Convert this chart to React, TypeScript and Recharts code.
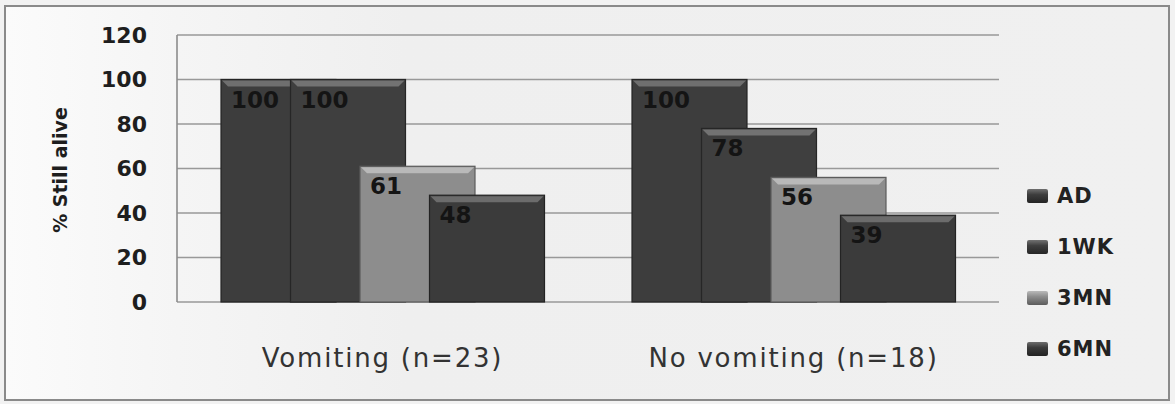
import React from "react";
import { BarChart, Bar, XAxis, YAxis, CartesianGrid, LabelList } from "recharts";

const categories = ["Vomiting (n=23)", "No vomiting (n=18)"];
const seriesNames = ["AD", "1WK", "3MN", "6MN"];
const adValues = [100, 100];
const wk1Values = [100, 78];
const mn3Values = [61, 56];
const mn6Values = [48, 39];
const yTicks = [0, 20, 40, 60, 80, 100, 120];

const seriesValues = [adValues, wk1Values, mn3Values, mn6Values];
const data = categories.map((name, i) => {
  const row: any = { name };
  seriesNames.forEach((s, j) => {
    row[s] = seriesValues[j][i];
  });
  return row;
});

const palette: Record<string, { base: string; top: string; edge: string }> = {
  AD: { base: "#3d3d3d", top: "#6f6f6f", edge: "#242424" },
  "1WK": { base: "#3f3f3f", top: "#727272", edge: "#262626" },
  "3MN": { base: "#8d8d8d", top: "#b9b9b9", edge: "#5c5c5c" },
  "6MN": { base: "#3b3b3b", top: "#6c6c6c", edge: "#232323" },
};

const FONT = "'DejaVu Sans', 'Noto Sans', sans-serif";
const PLOT_BOTTOM = 302;

const makeShape = (key: string) => (props: any) => {
  const { x, y, width, height } = props;
  const c = palette[key];
  const b = Math.min(7, height / 2);
  return (
    <g>
      <rect x={x} y={y} width={width} height={height} fill={c.base} stroke={c.edge} strokeWidth={1.2} />
      <polygon
        points={`${x + 1},${y + 1} ${x + width - 1},${y + 1} ${x + width - 7},${y + b} ${x + 7},${y + b}`}
        fill={c.top}
      />
    </g>
  );
};

const renderLabel = (props: any) => {
  const { x, y, value } = props;
  return (
    <text x={x + 10} y={y + 28} fontFamily={FONT} fontWeight={700} fontSize={23} fill="#141414">
      {value}
    </text>
  );
};

const YTick = (props: any) => {
  const { y, payload } = props;
  return (
    <text
      x={147}
      y={y}
      textAnchor="end"
      dominantBaseline="central"
      fontFamily={FONT}
      fontWeight={700}
      fontSize={22}
      fill="#1e1e1e"
    >
      {payload.value}
    </text>
  );
};

const XTick = (props: any) => {
  const { x, payload } = props;
  return (
    <text
      x={x}
      y={PLOT_BOTTOM + 65}
      textAnchor="middle"
      fontFamily={FONT}
      fontSize={26}
      letterSpacing={1.8}
      fill="#333"
    >
      {payload.value}
    </text>
  );
};

const YLabel = () => (
  <text
    x={60}
    y={170}
    transform="rotate(-90 60 170)"
    textAnchor="middle"
    dominantBaseline="central"
    fontFamily={FONT}
    fontWeight={700}
    fontSize={19}
    fill="#1e1e1e"
  >
    % Still alive
  </text>
);

const LegendBox = () => (
  <div style={{ position: "absolute", left: 1027, top: 170, display: "flex", flexDirection: "column" }}>
    {seriesNames.map((s) => (
      <div key={s} style={{ height: 51, display: "flex", alignItems: "center" }}>
        <span
          style={{
            display: "inline-block",
            width: 21,
            height: 14,
            borderRadius: 2,
            background: `linear-gradient(${palette[s].top}, ${palette[s].base} 40%, ${palette[s].edge})`,
            marginRight: 9,
          }}
        />
        <span
          style={{
            fontFamily: FONT,
            fontWeight: 700,
            fontSize: 21,
            letterSpacing: 1,
            color: "#222",
          }}
        >
          {s}
        </span>
      </div>
    ))}
  </div>
);

export default function App() {
  return (
    <div style={{ position: "absolute", left: 0, top: 0, width: 1175, height: 404, background: "#f2f2f2" }}>
      <div
        style={{
          position: "absolute",
          left: 4,
          top: 5,
          width: 1166,
          height: 396,
          border: "2px solid #8a8a8a",
          boxSizing: "border-box",
          background: "linear-gradient(90deg, #fbfbfb 0px, #f5f5f5 170px, #efefef 400px, #f0f0f0 1166px)",
        }}
      />
      <div style={{ position: "absolute", left: 0, top: 0 }}>
        <BarChart
          width={1175}
          height={404}
          data={data}
          margin={{ top: 35, right: 176, bottom: 0, left: 0 }}
          barSize={115}
          barGap={-45.5}
        >
          <CartesianGrid horizontal vertical={false} stroke="#999" strokeWidth={1.6} />
          <XAxis dataKey="name" height={102} axisLine={false} tickLine={false} tick={<XTick />} interval={0} />
          <YAxis
            width={177}
            domain={[0, 120]}
            ticks={yTicks}
            interval={0}
            axisLine={{ stroke: "#8c8c8c", strokeWidth: 1.6 }}
            tickLine={false}
            tick={<YTick />}
            label={<YLabel />}
          />
          {seriesNames.map((s) => (
            <Bar key={s} dataKey={s} fill={palette[s].base} shape={makeShape(s)} isAnimationActive={false}>
              <LabelList dataKey={s} content={renderLabel} />
            </Bar>
          ))}
        </BarChart>
      </div>
      <LegendBox />
    </div>
  );
}
